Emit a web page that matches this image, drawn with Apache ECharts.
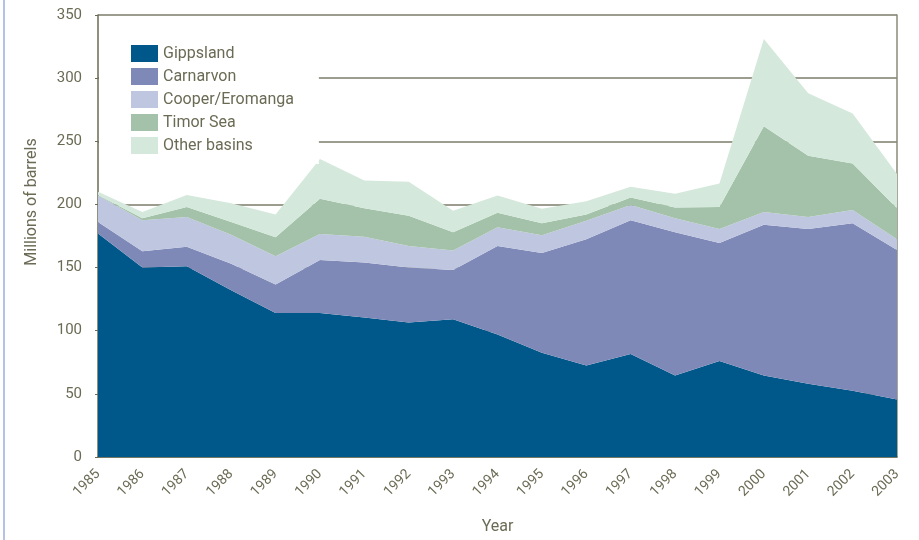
<!DOCTYPE html>
<html>
<head>
<meta charset="utf-8">
<script src="https://cdn.jsdelivr.net/npm/echarts@6/dist/echarts.min.js"></script>
<style>html,body{margin:0;padding:0;background:#fff}#c{width:919px;height:540px}</style>
</head>
<body>
<div id="c"></div>
<script>
const years = ['1985','1986','1987','1988','1989','1990','1991','1992','1993','1994','1995','1996','1997','1998','1999','2000','2001','2002','2003'];
const gippsland = [177,150,151,132,114,114,110.5,106.5,109,97,82.5,72.5,81.5,64.5,76,64.5,58,52.5,45.5];
const carnarvon = [9,13,15.5,21,22.5,42,43.5,43.5,39,70,79,100,106,113.5,93.5,119.5,122.5,132.5,118.5];
const cooper = [21,24.5,23.5,23,22.5,20.5,20.5,17,15.5,15,14,14.5,12,11,11,10,9.5,10.5,8.5];
const timor = [0.5,1.5,8,10,15,28,22.5,24,14.5,11.5,9.5,5,6,8.5,17.5,68,48.5,37,24.5];
const other = [2.5,5,9.5,15,18,31.5,22,27,17,13.5,11.5,10.5,8.5,11,18.5,69,49.5,39.5,27];
const yTicks = [0,50,100,150,200,250,300,350];

const txt = '#6b6b55';
const font = 'Roboto';
function mk(name, data, color){
  return {name, type:'line', stack:'total', data, symbol:'none', showSymbol:false,
    lineStyle:{width:0}, areaStyle:{color, opacity:1}, itemStyle:{color}, emphasis:{disabled:true}};
}
const chart = echarts.init(document.getElementById('c'));
chart.setOption({
  animation:false,
  textStyle:{fontFamily:font},
  graphic:[{type:'rect', shape:{x:3, y:0, width:2, height:540}, style:{fill:'#b4c3e2'}}],
  grid:{left:98, right:22, top:15, bottom:78},
  legend:{
    orient:'vertical', left:99, top:28, padding:[17,25,10,32],
    backgroundColor:'#fff', itemWidth:27, itemHeight:17, itemGap:6,
    icon:'rect', textStyle:{color:txt, fontSize:16, lineHeight:17, fontFamily:font},
    data:['Gippsland','Carnarvon','Cooper/Eromanga','Timor Sea','Other basins']
  },
  xAxis:{
    type:'category', data:years, boundaryGap:false,
    name:'Year', nameLocation:'middle', nameGap:62,
    nameTextStyle:{color:txt, fontSize:16, fontFamily:font},
    axisLine:{lineStyle:{color:txt, width:1.5}},
    axisTick:{show:false},
    axisLabel:{rotate:45, color:txt, fontSize:14, margin:15, fontFamily:font}
  },
  yAxis:[{
    type:'value', min:0, max:350, interval:50,
    name:'Millions of barrels', nameLocation:'middle', nameGap:58,
    nameTextStyle:{color:txt, fontSize:16, fontFamily:font, padding:[0,0,0,68]},
    axisLine:{show:true, lineStyle:{color:txt, width:1.5}},
    axisTick:{show:true, length:3, lineStyle:{color:txt}},
    axisLabel:{color:txt, fontSize:15, margin:16, fontFamily:font,
      formatter:v=>yTicks.includes(v)?String(v):''},
    splitLine:{show:true, lineStyle:{color:'#7d7d6a', width:1.5}}
  },{
    type:'value', min:0, max:350, interval:50, position:'right',
    axisLine:{show:true, lineStyle:{color:'#8a8a78', width:1.5}},
    axisTick:{show:false}, axisLabel:{show:false}, splitLine:{show:false}
  }],
  series:[
    mk('Gippsland', gippsland, '#00578a'),
    mk('Carnarvon', carnarvon, '#7f89b7'),
    mk('Cooper/Eromanga', cooper, '#bfc6e0'),
    mk('Timor Sea', timor, '#a3c2a9'),
    mk('Other basins', other, '#d4e8dc')
  ]
});
</script>
</body>
</html>
